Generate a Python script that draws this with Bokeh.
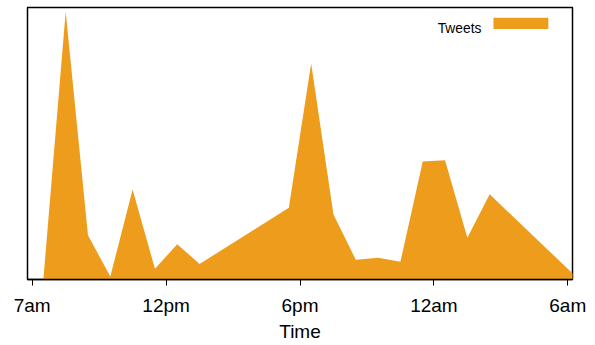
from bokeh.plotting import figure
from bokeh.models import ColumnDataSource, Range1d, FixedTicker, BoxAnnotation, Label
from bokeh.embed import file_html
from bokeh.resources import INLINE

# hours after the "7am" tick
hours = [0.5, 1.5, 2.5, 3.5, 4.5, 5.5, 6.5, 7.5, 11.5, 12.5, 13.5, 14.5, 15.5, 16.5, 17.5, 18.5, 19.5, 20.5, 24.5]
tweets = [0, 100, 16.5, 1.1, 33.6, 4.0, 13.2, 5.8, 26.8, 80.7, 24.3, 7.4, 8.1, 6.6, 44.1, 44.5, 15.6, 31.8, 0]
tick_pos = [0, 6, 12, 18, 24]
tick_labels = ["7am", "12pm", "6pm", "12am", "6am"]
series_name = "Tweets"
x_title = "Time"
color = "#EE9C1B"
FONT = "Liberation Sans"

src = ColumnDataSource(dict(x=hours, y=tweets))

x0, x1 = -0.211, 24.211
y0, y1 = 0, 101.6
p = figure(width=595, height=345, output_backend="svg", toolbar_location=None,
           x_range=Range1d(x0, x1), y_range=Range1d(y0, y1),
           min_border_left=27, min_border_right=23, min_border_top=7, min_border_bottom=66)
p.varea(x="x", y1=0, y2="y", source=src, fill_color=color, fill_alpha=1.0)

p.yaxis.visible = False
p.grid.visible = False
p.outline_line_color = "black"
p.outline_line_width = 1.5
p.outline_line_alpha = 1

ax = p.xaxis[0]
ax.ticker = FixedTicker(ticks=tick_pos)
ax.major_label_overrides = {t: l for t, l in zip(tick_pos, tick_labels)}
ax.minor_tick_line_color = None
ax.major_tick_in = 0
ax.major_tick_out = 6
ax.major_tick_line_color = "black"
ax.axis_line_color = "black"
ax.axis_line_width = 1.5
ax.major_label_text_font = FONT
ax.major_label_text_font_size = "19px"
ax.major_label_text_color = "black"
ax.major_label_standoff = 9
ax.axis_label = x_title
ax.axis_label_text_font = FONT
ax.axis_label_text_font_size = "19px"
ax.axis_label_text_font_style = "normal"
ax.axis_label_text_color = "black"
ax.axis_label_standoff = 2

# legend (label left, swatch right)
p.add_layout(BoxAnnotation(left=20.67, right=23.13, bottom=93.53, top=97.75,
                           fill_color=color, fill_alpha=1.0, line_color=None))
p.add_layout(Label(x=18.17, y=93.79, text=series_name, text_font=FONT,
                   text_font_size="13.8px", text_color="black", text_baseline="alphabetic"))

open("out.html", "w").write(file_html(p, INLINE))
